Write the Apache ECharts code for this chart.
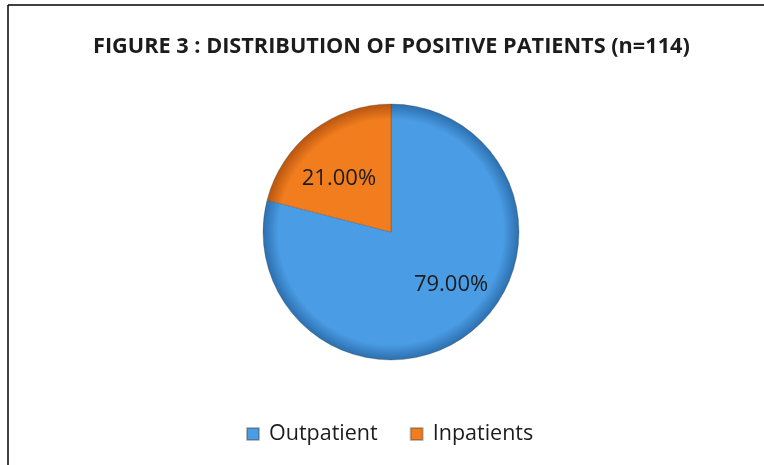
<!DOCTYPE html>
<html>
<head>
<meta charset="utf-8">
<script src="https://cdn.jsdelivr.net/npm/echarts@6/dist/echarts.min.js"></script>
<style>
html,body{margin:0;padding:0;background:#fff;}
#chart{width:764px;height:465px;}
</style>
</head>
<body>
<div id="chart"></div>
<script>
const titleText = 'FIGURE 3 : DISTRIBUTION OF POSITIVE PATIENTS (n=114)';
const categories = ['Outpatient', 'Inpatients'];
const values = [79.00, 21.00];
const colors = ['#4a9ce4', '#f17d1e'];
const edgeColors = ['#2c6fae', '#b85510'];

const chart = echarts.init(document.getElementById('chart'), null, {renderer: 'canvas'});

const CX = 391, CY = 232, R = 128;
function grad(c, e) {
  return {
    type: 'radial', x: CX, y: CY, r: R, global: true,
    colorStops: [
      {offset: 0, color: c},
      {offset: 0.88, color: c},
      {offset: 1, color: e}
    ]
  };
}

const labelPads = [[0, 0, 4, 38], [0, 22, 0, 0]];

const data = categories.map((name, i) => ({
  name: name,
  value: values[i],
  itemStyle: {color: grad(colors[i], edgeColors[i])},
  label: {padding: labelPads[i]}
}));

chart.setOption({
  animation: false,
  backgroundColor: '#ffffff',
  title: {
    text: titleText,
    left: 88,
    top: 31,
    textStyle: {fontFamily: 'Open Sans', fontWeight: 'bold', fontSize: 21.7, color: '#1c1c1c'}
  },
  legend: {
    data: categories.map((n, i) => ({name: n, itemStyle: {color: colors[i]}})),
    top: 418,
    left: 241,
    itemWidth: 12,
    itemHeight: 12,
    itemGap: 32,
    icon: 'rect',
    textStyle: {fontFamily: 'Open Sans', fontSize: 21.5, color: '#1c1c1c', padding: [0, 0, 0, 5]}
  },
  graphic: [
    {type: 'line', shape: {x1: 8, y1: 5, x2: 764, y2: 5}, style: {stroke: '#000', lineWidth: 1.5}},
    {type: 'line', shape: {x1: 8, y1: 5, x2: 8, y2: 465}, style: {stroke: '#000', lineWidth: 1.5}}
  ],
  series: [{
    type: 'pie',
    center: [CX, CY],
    radius: [0, R],
    startAngle: 90,
    clockwise: true,
    data: data,
    itemStyle: {borderColor: 'rgba(60,60,60,0.35)', borderWidth: 0.8},
    label: {
      position: 'inside',
      formatter: p => p.value.toFixed(2) + '%',
      fontFamily: 'Open Sans',
      fontSize: 22,
      color: '#1c1c1c'
    },
    labelLine: {show: false},
    emphasis: {disabled: true}
  }]
});
</script>
</body>
</html>
